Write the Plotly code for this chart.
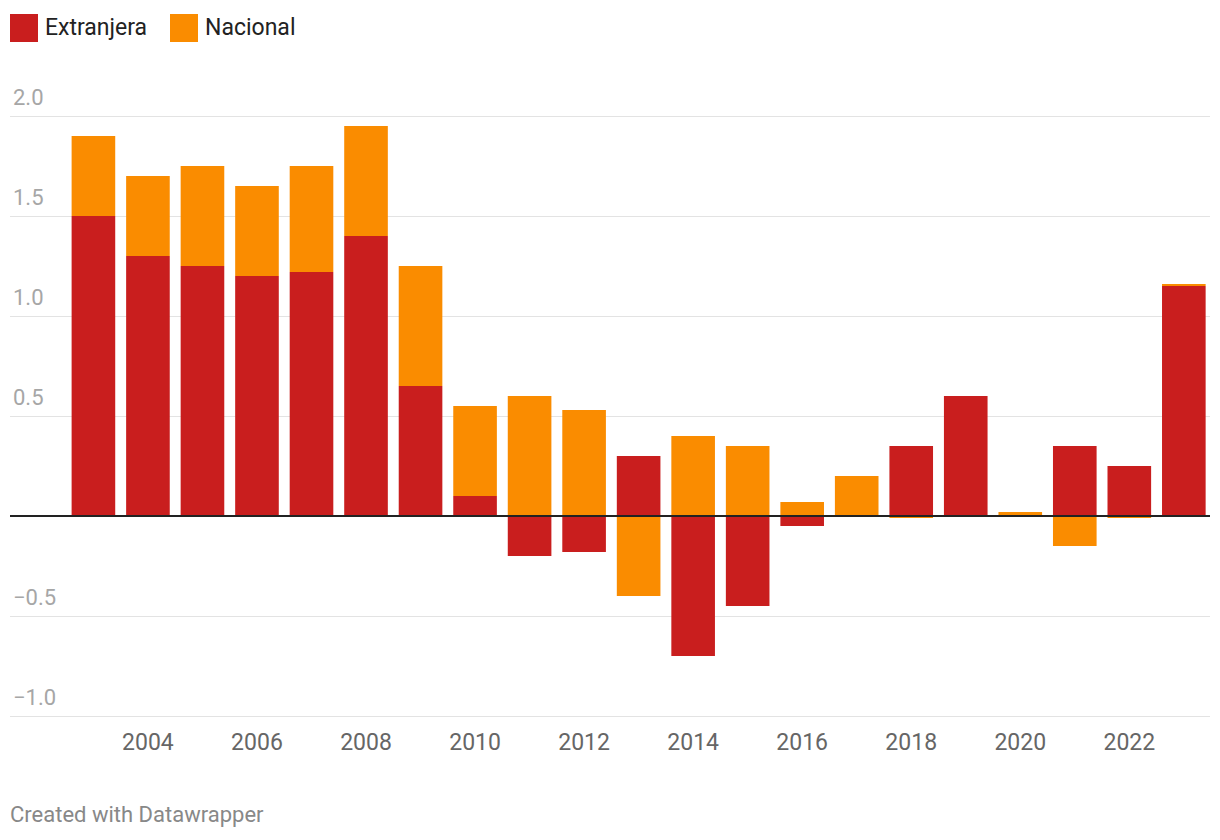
import plotly.graph_objects as go

years = list(range(2003, 2024))
extranjera = [1.50, 1.30, 1.25, 1.20, 1.22, 1.40, 0.65, 0.10, -0.20, -0.18, 0.30,
              -0.70, -0.45, -0.05, 0.00, 0.35, 0.60, 0.00, 0.35, 0.25, 1.15]
nacional = [0.40, 0.40, 0.50, 0.45, 0.53, 0.55, 0.60, 0.45, 0.60, 0.53, -0.40,
            0.40, 0.35, 0.07, 0.20, -0.01, 0.00, 0.02, -0.15, -0.01, 0.01]
x_ticks = list(range(2004, 2023, 2))
y_ticks = [-1.0, -0.5, 0.0, 0.5, 1.0, 1.5, 2.0]
y_labels = ["−1.0", "−0.5", "", "0.5", "1.0", "1.5", "2.0"]

RED = "#c91e1e"
ORANGE = "#fa8c00"

fig = go.Figure()
fig.add_trace(go.Bar(x=years, y=extranjera, name="Extranjera", marker_color=RED,
                     marker_line_width=0))
fig.add_trace(go.Bar(x=years, y=nacional, name="Nacional", marker_color=ORANGE,
                     marker_line_width=0))

# page has an 8px body margin; work in screenshot pixels and convert
OFF = 8
W, H = 1212, 832
L, R, T, B = 10 - OFF, 10, 66 - OFF, 120
pw, ph = W - L - R, H - T - B

def px(x):
    return (x - OFF - L) / pw

def py(y):
    return (H - B - (y - OFF)) / ph

fig.update_layout(
    width=W, height=H,
    barmode="relative", bargap=0.2,
    showlegend=False,
    plot_bgcolor="white", paper_bgcolor="white",
    margin=dict(l=L, r=R, t=T, b=B),
    font=dict(family="Roboto, sans-serif"),
    xaxis=dict(range=[2001.47, 2023.48], tickvals=x_ticks, showgrid=False,
               zeroline=False, showline=False, ticks="outside", ticklen=1,
               tickcolor="rgba(0,0,0,0)",
               tickfont=dict(size=23, color="#666666")),
    yaxis=dict(range=[-1.02, 2.25], tickvals=y_ticks, ticktext=y_labels,
               ticklabelposition="inside top", ticklabelshift=-3,
               showgrid=True, gridcolor="#e3e3e3",
               gridwidth=1, zeroline=False, showline=False,
               tickfont=dict(size=22, color="#a6a6a6")),
    shapes=[
        dict(type="line", xref="paper", yref="y", x0=0, x1=1, y0=0, y1=0,
             line=dict(color="#222222", width=2), layer="above"),
        dict(type="rect", xref="paper", yref="paper", x0=px(10), x1=px(38),
             y0=py(42), y1=py(14), fillcolor=RED, line_width=0),
        dict(type="rect", xref="paper", yref="paper", x0=px(170), x1=px(198),
             y0=py(42), y1=py(14), fillcolor=ORANGE, line_width=0),
    ],
    annotations=[
        dict(text="Extranjera", xref="paper", yref="paper", x=px(43), y=py(27),
             xanchor="left", yanchor="middle", showarrow=False,
             font=dict(size=23, color="#222222")),
        dict(text="Nacional", xref="paper", yref="paper", x=px(203), y=py(27),
             xanchor="left", yanchor="middle", showarrow=False,
             font=dict(size=23, color="#222222")),
        dict(text="Created with Datawrapper", xref="paper", yref="paper",
             x=px(8), y=py(814), xanchor="left", yanchor="middle", showarrow=False,
             font=dict(size=22, color="#888888")),
    ],
)

fig.write_html("out.html")
